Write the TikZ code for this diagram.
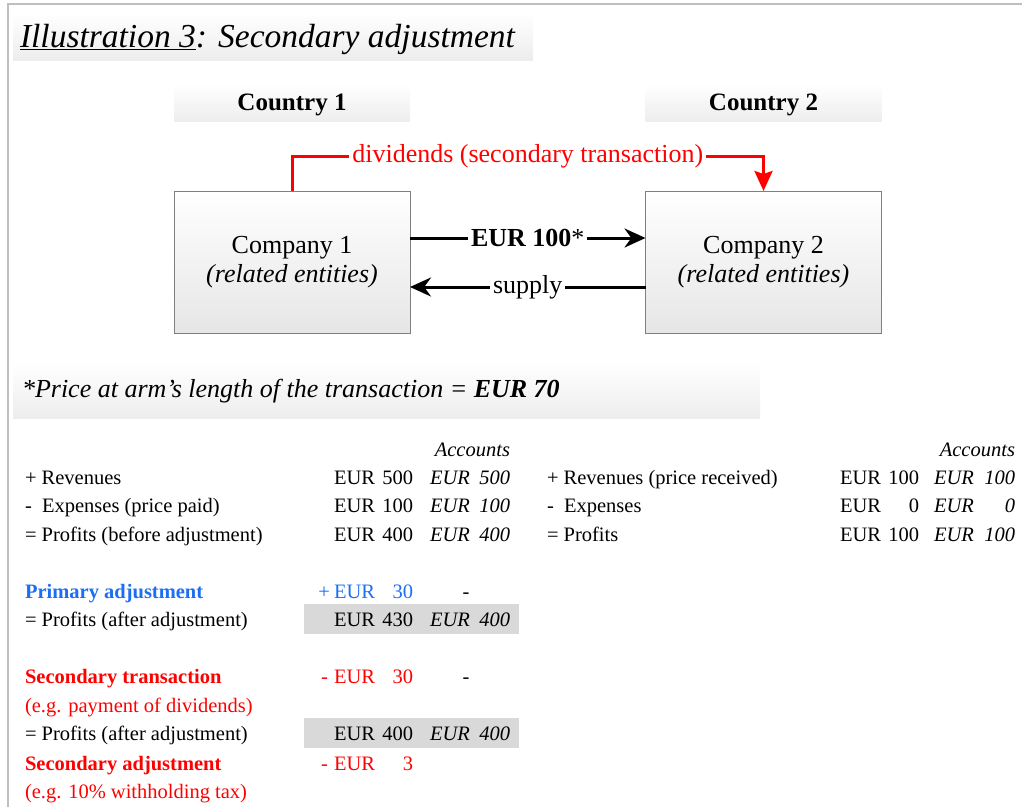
\documentclass[tikz,border=0pt]{standalone}
\usepackage{fontspec}
\setmainfont{Liberation Serif}
\usetikzlibrary{positioning,arrows.meta}

\definecolor{framegray}{HTML}{BFBFBF}
\definecolor{bandgray}{HTML}{EDEDED}
\definecolor{boxgray}{HTML}{E6E6E6}
\definecolor{boxline}{HTML}{7F7F7F}
\definecolor{cellgray}{HTML}{D9D9D9}
\definecolor{adjblue}{HTML}{1C6EF2}
\definecolor{adjred}{HTML}{FF0000}
\newcommand\tblsize{\fontsize{20.5}{24}\selectfont}

\begin{document}
\begin{tikzpicture}[x=1pt,y=-1pt,
    every node/.style={inner sep=0pt,outer sep=0pt},
    tbl/.style={font=\tblsize,anchor=mid west,yshift=-5pt},
    num/.style={tbl,anchor=mid east},
    itbl/.style={tbl,font=\tblsize\itshape},
    inum/.style={itbl,anchor=mid east},
    band/.style={top color=white,bottom color=bandgray,minimum width=236pt,minimum height=36pt,text depth=2pt,font=\fontsize{25}{30}\selectfont\bfseries},
    company/.style={draw=boxline,line width=1pt,top color=white,bottom color=boxgray,minimum width=236pt,minimum height=142pt,align=center,font=\fontsize{26}{32}\selectfont},
    flow/.style={line width=3pt,-{Stealth[length=21pt,width=19pt]}},
    divi/.style={adjred,line width=3pt,-{Stealth[length=20pt,width=18pt,inset=3pt]}},
    lbl/.style={fill=white,inner xsep=3pt,inner ysep=1pt,font=\fontsize{26}{30}\selectfont}]
            \useasboundingbox (0,0) rectangle (1022,807);
            \draw[framegray,line width=2pt] (8,807) -- (8,4) -- (1022,4);

            \shade[top color=white,bottom color=bandgray] (13,13) rectangle (533,60);
            \node[anchor=mid west,font=\fontsize{33.5}{38}\selectfont\itshape] (title) at (20,45)
                {\underline{Illustration 3}: Secondary adjustment};

            \node[band] (country1) at (292,103) {Country 1};
            \node[band] (country2) at (763.5,103) {Country 2};

            \node[company] (comp1) at (292,262) {\raisebox{-3pt}{Company 1}\\\textit{(related entities)}};
            \node[company] (comp2) at (763.5,262) {\raisebox{-3pt}{Company 2}\\\textit{(related entities)}};

            \draw[flow] ([yshift=24pt]comp1.east) -- node[lbl] (price) {\textbf{EUR 100}*} ([yshift=24pt]comp2.east -| comp2.west);
            \draw[flow] ([yshift=-25pt]comp2.west) -- node[lbl] (supply) {supply} ([yshift=-25pt]comp1.east);
            \draw[divi] (comp1.north) -- ++(0,-35) -| node[lbl,pos=0.25,text=adjred] (divlabel) {dividends (secondary transaction)} (comp2.north);

            \shade[top color=white,bottom color=bandgray] (13,362) rectangle (760,418);
            \node[anchor=mid west,font=\fontsize{26}{30}\selectfont\itshape] (note) at (22,395)
                {*Price at arm’s length of the transaction = \textbf{EUR 70}};

            \fill[cellgray] (304,604) rectangle (519,634);
            \fill[cellgray] (304,718) rectangle (519,748);

            \node[inum] (lacc) at (510,449) {Accounts};
            \foreach \y/\txt/\a/\b [count=\i] in {477/{+ Revenues}/500/500,
                    505/{-\ \ Expenses (price paid)}/100/100,
                    534/{= Profits (before adjustment)}/400/400,
                    619/{= Profits (after adjustment)}/430/400,
                    733/{= Profits (after adjustment)}/400/400}{
                \node[tbl] (ltxt\i) at (25,\y) {\txt};
                \node[tbl] (leur\i) at (334,\y) {EUR};
                \node[num] (lval\i) at (413,\y) {\a};
                \node[itbl] (lieur\i) at (430,\y) {EUR};
                \node[inum] (lival\i) at (510,\y) {\b};
            }

            \node[tbl,text=adjblue,font=\tblsize\bfseries] (prim) at (25,591) {Primary adjustment};
            \node[num,text=adjblue] (primsign) at (330,591) {+};
            \node[tbl,text=adjblue] (primeur) at (334,591) {EUR};
            \node[num,text=adjblue] (primval) at (413,591) {30};
            \node[tbl,anchor=mid] (primdash) at (466,591) {-};

            \node[tbl,text=adjred,font=\tblsize\bfseries] (sectr) at (25,676) {Secondary transaction};
            \node[tbl,text=adjred] (sectrnote) at (25,705) {(e.g. payment of dividends)};
            \node[num,text=adjred] (sectrsign) at (328,676) {-};
            \node[tbl,text=adjred] (sectreur) at (334,676) {EUR};
            \node[num,text=adjred] (sectrval) at (413,676) {30};
            \node[tbl,anchor=mid] (sectrdash) at (466,676) {-};

            \node[tbl,text=adjred,font=\tblsize\bfseries] (secadj) at (25,763) {Secondary adjustment};
            \node[tbl,text=adjred] (secadjnote) at (25,791) {(e.g. 10\% withholding tax)};
            \node[num,text=adjred] (secadjsign) at (328,763) {-};
            \node[tbl,text=adjred] (secadjeur) at (334,763) {EUR};
            \node[num,text=adjred] (secadjval) at (413,763) {3};

            \node[inum] (racc) at (1015,449) {Accounts};
            \foreach \y/\txt/\a/\b [count=\i] in {477/{+ Revenues (price received)}/100/100,
                    505/{-\ \ Expenses}/0/0,
                    534/{= Profits}/100/100}{
                \node[tbl] (rtxt\i) at (547,\y) {\txt};
                \node[tbl] (reur\i) at (840,\y) {EUR};
                \node[num] (rval\i) at (919,\y) {\a};
                \node[itbl] (rieur\i) at (934,\y) {EUR};
                \node[inum] (rival\i) at (1015,\y) {\b};
            }
\end{tikzpicture}
\end{document}
